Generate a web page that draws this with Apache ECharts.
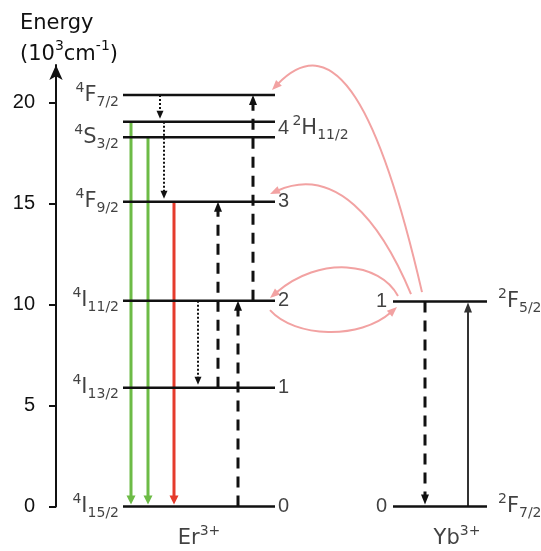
<!DOCTYPE html>
<html><head><meta charset="utf-8">
<script src="https://cdn.jsdelivr.net/npm/echarts@6/dist/echarts.min.js"></script>
<style>html,body{margin:0;padding:0;background:#fff}#c{width:541px;height:551px}</style>
</head><body><div id="c"></div>
<script>
// ---------------- DATA ----------------
const erLevels  = ['4F7/2', '2H11/2', '4S3/2', '4F9/2', '4I11/2', '4I13/2', '4I15/2'];
const erEnergy  = [20.38, 19.06, 18.29, 15.10, 10.19, 5.88, 0];        // 10^3 cm^-1
const erIndex   = ['', '4', '', '3', '2', '1', '0'];
const erLeftLabel = [true, false, true, true, true, true, true];
const ybLevels  = ['2F5/2', '2F7/2'];
const ybEnergy  = [10.15, 0];
const ybIndex   = ['1', '0'];
const yTicks    = [0, 5, 10, 15, 20];
const yMax      = 21.87;

const greenEmission  = [['2H11/2', '4I15/2'], ['4S3/2', '4I15/2']];
const redEmission    = [['4F9/2', '4I15/2']];
const relaxation     = [['4F7/2', '2H11/2'], ['2H11/2', '4F9/2'], ['4I11/2', '4I13/2']];
const erAbsorption   = [['4I13/2', '4F9/2'], ['4I15/2', '4I11/2'], ['4I11/2', '4F7/2']];
const ybDecay        = [['2F5/2', '2F7/2']];
const ybPump         = [['2F7/2', '2F5/2']];
const energyTransfer = [['Yb:2F5/2', 'Er:4F7/2'], ['Yb:2F5/2', 'Er:4F9/2'], ['Yb:2F5/2', 'Er:4I11/2'], ['Er:4I11/2', 'Yb:2F5/2']];

// ---------------- LAYOUT / STYLE ----------------
const LAYOUT = {
  erSpan: [67, 219], ybSpan: [337, 431],
  greenX: [75, 92], redX: [118], relaxX: [104, 108, 142], absX: [162, 182, 197],
  ybDecayX: [369], ybPumpX: [412], erIonX: 143, ybIonX: 401
};
// energy-transfer curve geometry: start x, start energy offset, c1, c2, end x, end energy offset
const ET_SHAPES = [
  {x0: 366, d0: 0.47, c1: [324, 19.64], c2: [279, 23.85], x1: 216, d1: 0.25},
  {x0: 355, d0: 0.37, c1: [324, 14.19], c2: [279, 16.91], x1: 214, d1: 0.38},
  {x0: 342, d0: 0.28, c1: [324, 12.11], c2: [264, 12.46], x1: 214, d1: 0.14},
  {x0: 214, d0: -0.46, c1: [239, 8.35], c2: [304, 8.25], x1: 341, d1: -0.27}
];
const TXT = '#111', LINE = '#111', PINK = '#f2a2a2';
const LABEL_FONT = 'DejaVu Sans', TICK_FONT = 'Liberation Sans';

const E = ref => {
  let name = ref, ion = null;
  if (ref.indexOf(':') > 0) { [ion, name] = ref.split(':'); }
  if (ion !== 'Yb') { const i = erLevels.indexOf(name); if (i >= 0) return erEnergy[i]; }
  return ybEnergy[ybLevels.indexOf(name)];
};
const term = t => { const m = t.match(/^(\d+)([A-Z])(.+)$/); return `{sup|${m[1]}}{m|${m[2]}}{sub|${m[3]}}`; };
const rich = {
  m:   {fontSize: 21, fontFamily: LABEL_FONT, color: TXT, lineHeight: 28},
  n:   {fontSize: 20, fontFamily: TICK_FONT, color: TXT, lineHeight: 28},
  sup: {fontSize: 14, fontFamily: LABEL_FONT, color: TXT, verticalAlign: 'top', lineHeight: 17},
  sub: {fontSize: 14, fontFamily: LABEL_FONT, color: TXT, verticalAlign: 'bottom', lineHeight: 17}
};

function vArrows(name, pairs, xs, st) {
  return {
    type: 'custom', name, coordinateSystem: 'cartesian2d', silent: true, z: 3,
    data: pairs.map((p, i) => [xs[i], E(p[0]), E(p[1])]),
    encode: {x: 0, y: [1, 2]},
    renderItem: (params, api) => {
      const a = api.coord([api.value(0), api.value(1)]);
      const b = api.coord([api.value(0), api.value(2)]);
      const dir = Math.sign(b[1] - a[1]);
      const tipY = b[1] - dir * st.gap;
      const baseY = tipY - dir * st.hl;
      return {type: 'group', children: [
        {type: 'line', shape: {x1: a[0], y1: a[1], x2: a[0], y2: baseY + dir * 1},
         style: {stroke: st.color, lineWidth: st.w, lineDash: st.dash || null, fill: null}},
        {type: 'polygon', shape: {points: [[a[0], tipY], [a[0] - st.hw / 2, baseY], [a[0] + st.hw / 2, baseY]]},
         style: {fill: st.color, stroke: null}}
      ]};
    }
  };
}

const levelData = erEnergy.map(e => [LAYOUT.erSpan[0], LAYOUT.erSpan[1], e])
  .concat(ybEnergy.map(e => [LAYOUT.ybSpan[0], LAYOUT.ybSpan[1], e]));

const etData = energyTransfer.map((p, i) => {
  const s = ET_SHAPES[i];
  return [s.x0, E(p[0]) + s.d0, s.c1[0], s.c1[1], s.c2[0], s.c2[1], s.x1, E(p[1]) + s.d1];
});

const leftLabels = [], rightLabels = [];
erLevels.forEach((n, i) => {
  if (erLeftLabel[i]) leftLabels.push({value: [LAYOUT.erSpan[0], erEnergy[i]], label: {formatter: term(n), distance: 4}});
  if (erIndex[i]) {
    if (n === '2H11/2') rightLabels.push({value: [LAYOUT.erSpan[1], erEnergy[i]], label: {formatter: `{n|${erIndex[i]}} ${term(n)}`, distance: 3, offset: [0, 7]}});
    else rightLabels.push({value: [LAYOUT.erSpan[1], erEnergy[i]], label: {formatter: `{n|${erIndex[i]}}`, distance: 3}});
  }
});
ybLevels.forEach((n, i) => {
  leftLabels.push({value: [LAYOUT.ybSpan[0], ybEnergy[i]], label: {formatter: `{n|${ybIndex[i]}}`, distance: 6}});
  rightLabels.push({value: [LAYOUT.ybSpan[1], ybEnergy[i]], label: {formatter: term(n), distance: 11}});
});
const ionLabels = [
  {value: [LAYOUT.erIonX, 0], label: {formatter: '{m|Er}{sup|3+}'}},
  {value: [LAYOUT.ybIonX, 0], label: {formatter: '{m|Yb}{sup|3+}'}}
];

const chart = echarts.init(document.getElementById('c'), null, {renderer: 'canvas'});
chart.setOption({
  animation: false,
  backgroundColor: '#fff',
  title: {
    text: 'Energy\n(10{sup|3}cm{sup|-1})', left: 20, top: 8, padding: 0,
    textStyle: {fontFamily: LABEL_FONT, fontSize: 21, fontWeight: 'normal', color: TXT, lineHeight: 31,
      rich: {sup: {fontSize: 14, fontFamily: LABEL_FONT, color: TXT, verticalAlign: 'top', lineHeight: 22}}}
  },
  grid: {left: 56, right: 0, top: 65, bottom: 44.5, containLabel: false, outerBoundsMode: 'none'},
  xAxis: {type: 'value', min: 0, max: 485, show: false},
  yAxis: {
    type: 'value', min: 0, max: yMax, interval: 5,
    axisLine: {show: true, lineStyle: {color: LINE, width: 2}, symbol: ['none', 'arrow'], symbolSize: [10, 15]},
    axisTick: {show: true, length: 7, lineStyle: {color: LINE, width: 2}, customValues: yTicks},
    axisLabel: {customValues: yTicks, margin: 21, fontSize: 20, fontFamily: TICK_FONT, color: TXT},
    splitLine: {show: false}
  },
  series: [
    { // energy transfer curves
      type: 'custom', name: 'energy transfer', coordinateSystem: 'cartesian2d', silent: true, z: 1,
      data: etData, encode: {x: [0, 6], y: [1, 7]},
      renderItem: (params, api) => {
        const p0 = api.coord([api.value(0), api.value(1)]);
        const c1 = api.coord([api.value(2), api.value(3)]);
        const c2 = api.coord([api.value(4), api.value(5)]);
        const p1 = api.coord([api.value(6), api.value(7)]);
        let dx = p1[0] - c2[0], dy = p1[1] - c2[1];
        const len = Math.hypot(dx, dy); dx /= len; dy /= len;
        const hl = 10, hw = 8;
        const bx = p1[0] - dx * hl, by = p1[1] - dy * hl;
        const nx = -dy, ny = dx;
        return {type: 'group', children: [
          {type: 'bezierCurve', shape: {x1: p0[0], y1: p0[1], cpx1: c1[0], cpy1: c1[1], cpx2: c2[0], cpy2: c2[1],
             x2: bx + dx * 2, y2: by + dy * 2}, style: {stroke: PINK, lineWidth: 2, fill: null}},
          {type: 'polygon', shape: {points: [[p1[0], p1[1]], [bx + nx * hw / 2, by + ny * hw / 2], [bx - nx * hw / 2, by - ny * hw / 2]]},
             style: {fill: PINK, stroke: null}}
        ]};
      }
    },
    vArrows('green emission', greenEmission, LAYOUT.greenX, {color: '#6dbb46', w: 3, hw: 9, hl: 9, gap: 2}),
    vArrows('red emission', redEmission, LAYOUT.redX, {color: '#e53b2c', w: 3, hw: 9, hl: 9, gap: 2}),
    vArrows('relaxation', relaxation, LAYOUT.relaxX, {color: LINE, w: 2, dash: [2, 2], hw: 7, hl: 8, gap: 3}),
    vArrows('Er absorption', erAbsorption, LAYOUT.absX, {color: LINE, w: 3, dash: [11, 8], hw: 8, hl: 10, gap: 0}),
    vArrows('Yb decay', ybDecay, LAYOUT.ybDecayX, {color: LINE, w: 3, dash: [11, 8], hw: 8, hl: 10, gap: 2}),
    vArrows('Yb pump', ybPump, LAYOUT.ybPumpX, {color: '#333', w: 2, hw: 8, hl: 10, gap: 1}),
    { // energy levels
      type: 'custom', name: 'levels', coordinateSystem: 'cartesian2d', silent: true, z: 5,
      data: levelData, encode: {x: [0, 1], y: 2},
      renderItem: (params, api) => {
        const a = api.coord([api.value(0), api.value(2)]);
        const b = api.coord([api.value(1), api.value(2)]);
        return {type: 'line', shape: {x1: a[0], y1: a[1], x2: b[0], y2: b[1]}, style: {stroke: LINE, lineWidth: 2.5}};
      }
    },
    {type: 'scatter', name: 'left labels', symbolSize: 0, silent: true, z: 6, data: leftLabels,
     label: {show: true, position: 'left', rich}},
    {type: 'scatter', name: 'right labels', symbolSize: 0, silent: true, z: 6, data: rightLabels,
     label: {show: true, position: 'right', rich}},
    {type: 'scatter', name: 'ion labels', symbolSize: 0, silent: true, z: 6, data: ionLabels,
     label: {show: true, position: 'inside', offset: [0, 32], rich}}
  ]
});
</script></body></html>
